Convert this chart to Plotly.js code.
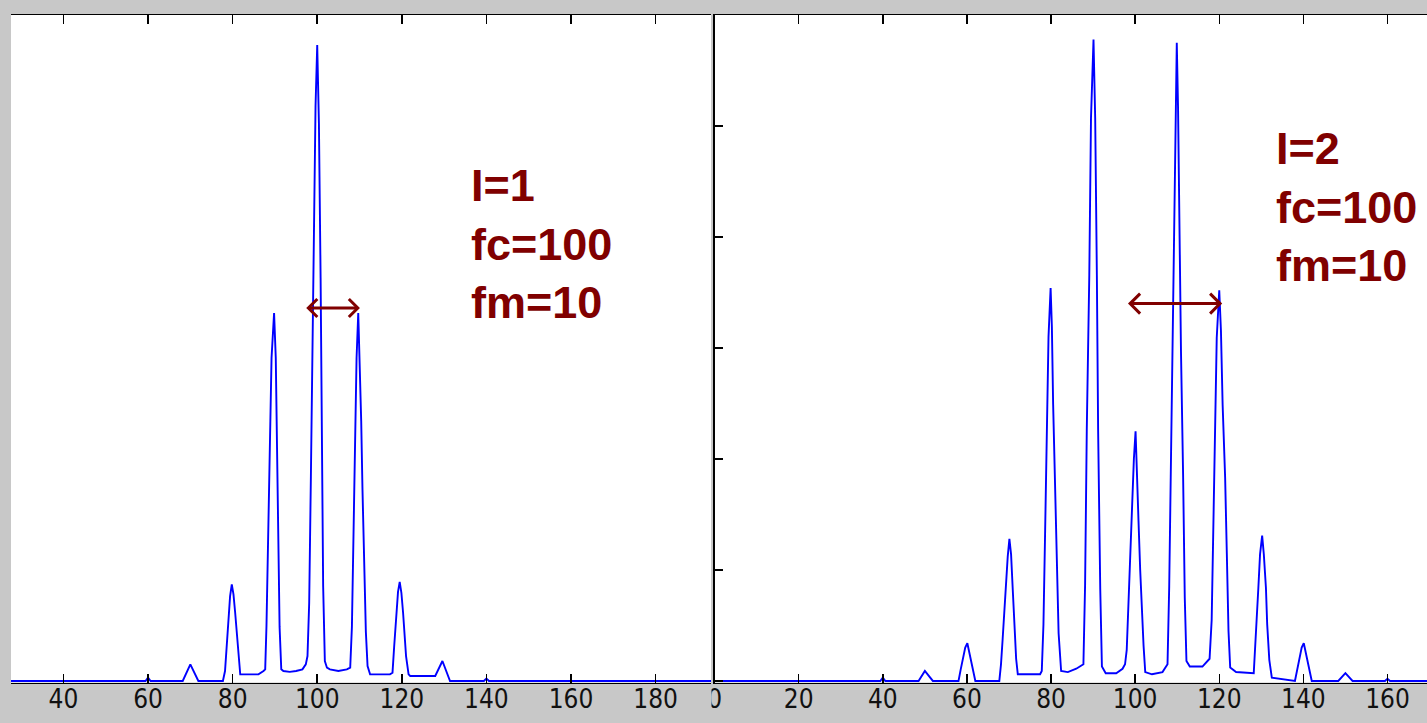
<!DOCTYPE html>
<html>
<head>
<meta charset="utf-8">
<script src="https://cdn.plot.ly/plotly-3.0.1.min.js"></script>
<style>html,body{margin:0;padding:0;background:#c8c8c8;}#chart{width:1427px;height:723px;}</style>
</head>
<body>
<div id="chart"></div>
<script>
// ---- Left spectrum: I=1, fc=100, fm=10 ----
const freqLeft = [27.6, 59.4, 60.0, 60.6, 68.2, 70.0, 71.9, 77.7, 78.2, 78.6, 79.0, 79.4, 79.8, 80.2, 80.6, 81.0, 81.4, 81.8,
  82.2, 86.1, 87.3, 87.7, 88.0, 88.4, 88.8, 89.2, 89.8, 90.2, 90.5, 90.8, 91.1, 91.5,
  92.0, 93.5, 95.0, 96.5, 97.3, 97.7, 98.1, 98.5, 98.9, 99.3, 99.6, 100.0, 100.4, 100.8, 101.1, 101.4, 101.8,
  102.3, 103.0, 105.0, 107.0, 107.8, 108.2, 108.6, 109.0, 109.3, 109.7, 110.0, 110.4, 110.7, 111.1, 111.5, 111.9,
  112.5, 117.2, 117.8, 118.2, 118.7, 119.1, 119.5, 119.9, 120.3, 120.6, 121.0, 121.6,
  122.0, 127.9, 129.6, 131.4, 139.4, 140.0, 140.6, 193.1];
const magLeft = [0, 0, 0.004, 0, 0, 0.02, 0, 0, 0.012, 0.047, 0.074, 0.102, 0.116, 0.104, 0.082, 0.06, 0.038, 0.008,
  0.008, 0.008, 0.012, 0.014, 0.066, 0.174, 0.28, 0.388, 0.442, 0.388, 0.28, 0.173, 0.065, 0.014,
  0.012, 0.011, 0.012, 0.014, 0.02, 0.03, 0.094, 0.245, 0.394, 0.542, 0.69, 0.764, 0.67, 0.484, 0.30, 0.114, 0.024,
  0.016, 0.014, 0.012, 0.014, 0.016, 0.065, 0.173, 0.28, 0.388, 0.442, 0.394, 0.312, 0.23, 0.143, 0.059, 0.018,
  0.008, 0.008, 0.01, 0.042, 0.077, 0.107, 0.119, 0.106, 0.082, 0.06, 0.03, 0.008,
  0.006, 0.006, 0.024, 0, 0, 0.003, 0, 0];

// ---- Right spectrum: I=2, fc=100, fm=10 ----
const freqRight = [0, 39.4, 40.0, 40.6, 48.5, 50.0, 51.9, 58.0, 58.5, 59.0, 59.6, 60.1, 60.6, 61.1, 61.6, 62.0,
  67.7, 68.1, 68.5, 68.9, 69.3, 69.7, 70.1, 70.5, 70.9, 71.3, 71.7, 72.1,
  77.4, 77.8, 78.2, 78.6, 79.0, 79.4, 79.9, 80.2, 80.5, 80.9, 81.3, 81.8, 82.4,
  84.0, 86.0, 87.7, 88.1, 88.5, 89.1, 89.5, 90.1, 90.5, 90.9, 91.2, 91.7, 92.1,
  93.0, 95.5, 97.0, 97.6, 98.0, 98.4, 98.8, 99.2, 99.7, 100.1, 100.4, 100.8, 101.2, 101.6, 102.0, 102.4,
  104.0, 106.5, 107.7, 108.1, 108.6, 109.1, 109.5, 109.9, 110.2, 110.5, 110.9, 111.4, 111.8, 112.2,
  113.0, 116.0, 117.7, 118.2, 118.6, 119.0, 119.4, 120.0, 120.4, 120.8, 121.4, 121.8, 122.2, 122.6,
  124.0, 128.2, 128.5, 128.9, 129.3, 129.7, 130.2, 130.6, 131.1, 131.4, 131.9, 132.5,
  138.0, 138.5, 139.0, 139.6, 140.1, 140.6, 141.1, 141.6, 142.0, 148.3, 150.0, 151.7, 159.4, 160.0, 160.6, 169.4];
const magRight = [0, 0, 0.003, 0, 0, 0.009, 0, 0, 0.01, 0.02, 0.03, 0.034, 0.025, 0.013, 0.004, 0,
  0, 0.015, 0.038, 0.066, 0.09, 0.112, 0.128, 0.114, 0.082, 0.051, 0.02, 0.006,
  0.006, 0.009, 0.051, 0.136, 0.225, 0.31, 0.354, 0.319, 0.249, 0.181, 0.112, 0.043, 0.009,
  0.008, 0.011, 0.015, 0.087, 0.226, 0.366, 0.507, 0.578, 0.507, 0.365, 0.225, 0.083, 0.013,
  0.007, 0.007, 0.011, 0.015, 0.028, 0.073, 0.117, 0.157, 0.2, 0.225, 0.196, 0.144, 0.1, 0.06, 0.032, 0.008,
  0.006, 0.008, 0.015, 0.085, 0.225, 0.365, 0.504, 0.575, 0.517, 0.406, 0.297, 0.186, 0.075, 0.018,
  0.013, 0.013, 0.02, 0.055, 0.139, 0.225, 0.309, 0.352, 0.316, 0.249, 0.183, 0.115, 0.045, 0.012,
  0.008, 0.007, 0.024, 0.056, 0.084, 0.114, 0.131, 0.114, 0.084, 0.051, 0.019, 0.003,
  0, 0.01, 0.02, 0.03, 0.034, 0.025, 0.013, 0.004, 0, 0, 0.007, 0, 0, 0.002, 0, 0];

// ---- Tick labels ----
const ticksLeft = [40, 60, 80, 100, 120, 140, 160, 180];
const ticksRight = [0, 20, 40, 60, 80, 100, 120, 140, 160];
const yTicksRight = [0, 0.1, 0.2, 0.3, 0.4, 0.5, 0.6];

// ---- Annotation texts ----
const labelsLeft = ['I=1', 'fc=100', 'fm=10'];
const labelsRight = ['I=2', 'fc=100', 'fm=10'];

// ---- Layout helpers ----
const W = 1427, H = 723;
const yDom = [1 - 682.5 / H, 1 - 15 / H];
const axisFont = {family: 'Liberation Sans Narrow, DejaVu Sans Condensed, Arial Narrow, sans-serif', size: 26, color: '#111'};
const red = '#800000';

function xAx(domain, range, ticks, anchor) {
  return {domain, range, anchor, tickmode: 'array', tickvals: ticks, ticktext: ticks.map(String),
    ticks: 'inside', ticklen: 9, tickwidth: 1.5, tickcolor: '#000', showline: true, linecolor: '#000', linewidth: 1.5,
    mirror: 'ticks', showgrid: false, zeroline: false, tickfont: axisFont, ticklabelstandoff: -7, fixedrange: true};
}

const traces = [
  {x: freqLeft, y: magLeft, xaxis: 'x', yaxis: 'y', type: 'scatter', mode: 'lines',
   line: {color: '#0000ff', width: 1.9}, hoverinfo: 'skip'},
  {x: freqRight, y: magRight, xaxis: 'x2', yaxis: 'y2', type: 'scatter', mode: 'lines',
   line: {color: '#0000ff', width: 1.9}, hoverinfo: 'skip'}
];

function chevrons(xref, yref, xa, xb, yv, size) {
  return [
    {type: 'line', xref, yref, x0: xa, x1: xb, y0: yv, y1: yv, line: {color: red, width: 3}},
    {type: 'path', xref, yref, xsizemode: 'pixel', ysizemode: 'pixel', xanchor: xa, yanchor: yv,
     path: `M ${size} ${size} L 0 0 L ${size} ${-size}`, line: {color: red, width: 3}},
    {type: 'path', xref, yref, xsizemode: 'pixel', ysizemode: 'pixel', xanchor: xb, yanchor: yv,
     path: `M ${-size} ${size} L 0 0 L ${-size} ${-size}`, line: {color: red, width: 3}}
  ];
}

const layout = {
  width: W, height: H, margin: {l: 0, r: 0, t: 0, b: 0},
  paper_bgcolor: '#c8c8c8', plot_bgcolor: '#ffffff', showlegend: false,
  xaxis: xAx([11 / W, 711 / W], [27.6, 193.1], ticksLeft, 'y'),
  yaxis: {domain: yDom, range: [-0.0018, 0.8], anchor: 'x', visible: false, fixedrange: true},
  xaxis2: xAx([714.6 / W, 1], [0, 169.4], ticksRight, 'y2'),
  yaxis2: {domain: yDom, range: [-0.0014, 0.6], anchor: 'x2', tickmode: 'array', tickvals: yTicksRight,
    showticklabels: false, ticks: 'inside', ticklen: 8, tickwidth: 1.5, tickcolor: '#000',
    showline: true, linecolor: '#000', linewidth: 2, showgrid: false, zeroline: false, fixedrange: true},
  shapes: [].concat(
    chevrons('x', 'y', 97.9, 109.6, 0.448, 9),
    chevrons('x2', 'y2', 98.8, 120.2, 0.34, 10),
    [{type: 'rect', xref: 'paper', yref: 'paper', x0: 690 / W, x1: 711.5 / W, y0: 0, y1: (H - 684.5) / H,
      fillcolor: '#c8c8c8', line: {width: 0}, layer: 'above'}]
  ),
  annotations: [
    {xref: 'x', yref: 'y', x: 135.8, y: 0.525, xanchor: 'left', yanchor: 'middle', align: 'left', showarrow: false,
     text: labelsLeft.map(s => '<b>' + s + '</b>').join('<br>'),
     font: {family: 'Liberation Sans, Arial, sans-serif', size: 45, color: red}},
    {xref: 'x2', yref: 'y2', x: 133.0, y: 0.427, xanchor: 'left', yanchor: 'middle', align: 'left', showarrow: false,
     text: labelsRight.map(s => '<b>' + s + '</b>').join('<br>'),
     font: {family: 'Liberation Sans, Arial, sans-serif', size: 45, color: red}}
  ]
};

Plotly.newPlot('chart', traces, layout, {displayModeBar: false, staticPlot: true});
</script>
</body>
</html>
